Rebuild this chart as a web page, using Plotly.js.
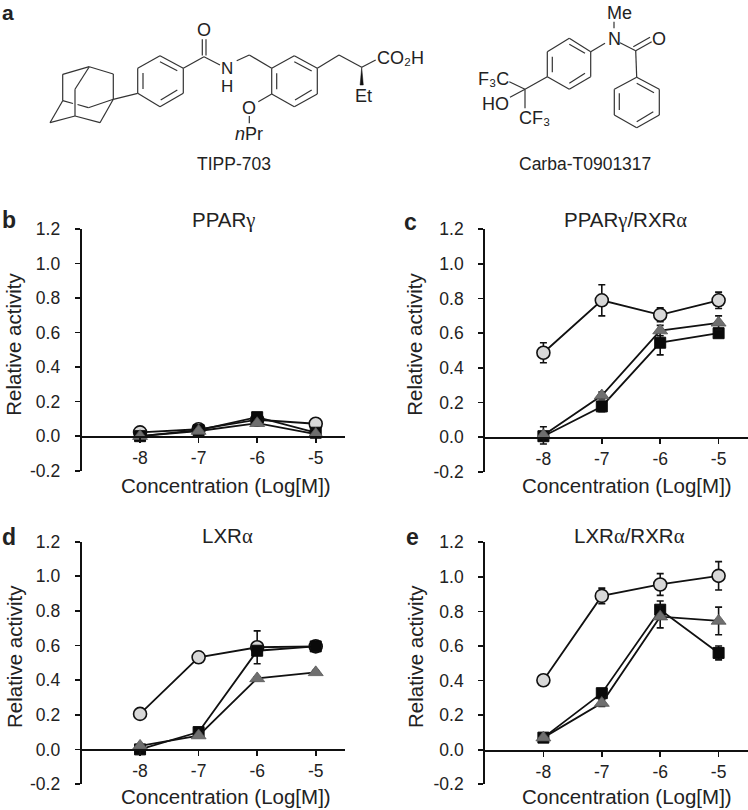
<!DOCTYPE html>
<html>
<head>
<meta charset="utf-8">
<script src="https://cdn.plot.ly/plotly-3.0.1.min.js"></script>
<style>
  html, body { margin: 0; padding: 0; background: #fff; }
</style>
</head>
<body>
<div id="chart" style="width:748px;height:810px;"></div>
<script>
// Values
const concentration = [-8, -7, -6, -5];
const concentrationLabels = ['-8', '-7', '-6', '-5'];
const activityTicks = [-0.2, 0, 0.2, 0.4, 0.6, 0.8, 1.0, 1.2];
const activityLabels = ['-0.2', '0.0', '0.2', '0.4', '0.6', '0.8', '1.0', '1.2'];

// b: PPARgamma
const bCircle = [0.022, 0.04, 0.095, 0.072];
const bCircleErr = [0.005, 0.005, 0.01, 0.005];
const bSquare = [0.0, 0.035, 0.11, 0.02];
const bSquareErr = [0.005, 0.005, 0.015, 0.01];
const bTriangle = [0.0, 0.03, 0.075, 0.012];
const bTriangleErr = [0.005, 0.005, 0.01, 0.005];

// c: PPARgamma/RXRalpha
const cCircle = [0.487, 0.79, 0.706, 0.79];
const cCircleErr = [0.058, 0.09, 0.04, 0.047];
const cSquare = [0.005, 0.177, 0.545, 0.6];
const cSquareErr = [0.01, 0.03, 0.07, 0.02];
const cTriangle = [0.01, 0.24, 0.615, 0.66];
const cTriangleErr = [0.05, 0.02, 0.03, 0.04];

// d: LXRalpha
const dCircle = [0.205, 0.532, 0.59, 0.595];
const dCircleErr = [0.02, 0.005, 0.095, 0.01];
const dSquare = [0.0, 0.10, 0.57, 0.595];
const dSquareErr = [0.01, 0.01, 0.02, 0.015];
const dTriangle = [0.02, 0.08, 0.41, 0.445];
const dTriangleErr = [0.005, 0.01, 0.01, 0.01];

// e: LXRalpha/RXRalpha
const eCircle = [0.402, 0.89, 0.956, 1.006];
const eCircleErr = [0.01, 0.045, 0.063, 0.082];
const eSquare = [0.07, 0.327, 0.81, 0.56];
const eSquareErr = [0.01, 0.02, 0.05, 0.04];
const eTriangle = [0.07, 0.27, 0.77, 0.745];
const eTriangleErr = [0.01, 0.02, 0.065, 0.08];

const W = 748, H = 810;
const sansFont = 'Liberation Sans, Arial, sans-serif';
const textColor = '#222222';

// panel boxes in page pixels: left, right, top, bottom
const panels = [
  { id: '',  box: [81.5, 345, 229, 470.7],     sets: [bCircle, bCircleErr, bSquare, bSquareErr, bTriangle, bTriangleErr] },
  { id: '2', box: [485, 747.8, 229.3, 471.7],  sets: [cCircle, cCircleErr, cSquare, cSquareErr, cTriangle, cTriangleErr] },
  { id: '3', box: [81.5, 345, 541.7, 784],     sets: [dCircle, dCircleErr, dSquare, dSquareErr, dTriangle, dTriangleErr] },
  { id: '4', box: [485, 747.8, 542.3, 784.3],  sets: [eCircle, eCircleErr, eSquare, eSquareErr, eTriangle, eTriangleErr] }
];

const seriesStyles = [
  { name: 'Circle', symbol: 'circle', size: 13, fill: '#d8d8d8', edge: '#111111', edgeW: 1.6 },
  { name: 'Square', symbol: 'square', size: 11, fill: '#0a0a0a', edge: '#0a0a0a', edgeW: 1 },
  { name: 'Triangle', symbol: 'triangle-up', size: 13, fill: '#6f6f6f', edge: '#555555', edgeW: 0.8 }
];

var traces = [];
var layout = {
  width: W, height: H,
  margin: { l: 0, r: 0, t: 0, b: 0, autoexpand: false },
  paper_bgcolor: '#ffffff',
  plot_bgcolor: 'rgba(0,0,0,0)',
  showlegend: false,
  font: { family: sansFont, color: textColor, size: 18 },
  shapes: [],
  annotations: []
};

panels.forEach(function (p) {
  const xName = 'x' + p.id, yName = 'y' + p.id;
  const yBottom = 1 - p.box[3] / H, yTop = 1 - p.box[2] / H;

  seriesStyles.forEach(function (s, i) {
    traces.push({
      x: concentration,
      y: p.sets[i * 2],
      xaxis: xName,
      yaxis: yName,
      type: 'scatter',
      mode: 'lines+markers',
      name: s.name,
      cliponaxis: false,
      line: { color: '#111111', width: 1.8 },
      marker: { symbol: s.symbol, size: s.size, color: s.fill, line: { color: s.edge, width: s.edgeW } },
      error_y: { type: 'data', array: p.sets[i * 2 + 1], visible: true, color: '#111111', thickness: 1.6, width: 3.5 }
    });
  });

  layout['xaxis' + p.id] = {
    domain: [p.box[0] / W, p.box[1] / W],
    range: [-9, -4.5],
    anchor: 'free',
    position: yBottom + (yTop - yBottom) * 0.2 / 1.4,
    tickmode: 'array',
    tickvals: concentration,
    ticktext: concentrationLabels,
    ticks: 'outside', ticklen: 5, tickwidth: 1.7, tickcolor: '#111111',
    ticklabelshift: -4.5,
    tickfont: { size: 17.5 },
    showline: true, linecolor: '#111111', linewidth: 1.8,
    showgrid: false, zeroline: false
  };
  layout['yaxis' + p.id] = {
    domain: [yBottom, yTop],
    range: [-0.2, 1.2],
    anchor: xName,
    tickmode: 'array',
    tickvals: activityTicks,
    ticktext: activityLabels,
    ticks: 'outside', ticklen: 5, tickwidth: 1.7, tickcolor: '#111111',
    ticklabelstandoff: 11,
    tickfont: { size: 17.5 },
    showline: true, linecolor: '#111111', linewidth: 1.8,
    showgrid: false, zeroline: false
  };
});

// text placed by page pixel
function label(x, y, text, size, opts, fontOpts) {
  layout.annotations.push(Object.assign({
    xref: 'paper', yref: 'paper',
    x: x / W, y: 1 - y / H,
    xanchor: 'center', yanchor: 'middle',
    text: text, showarrow: false,
    font: Object.assign({ size: size, family: sansFont, color: textColor }, fontOpts || {})
  }, opts || {}));
}

const titleSize = 20.5;
const greekStyle = 'style="font-size:' + titleSize + 'px;font-family:\'Liberation Serif\',serif"';
const gamma = '<span ' + greekStyle + '>γ</span>';
const alpha = '<span ' + greekStyle + '>α</span>';

// panel letters and titles
const boldFont = { weight: 'bold' };
label(8, 12.5, 'a', 21, null, boldFont);
label(9, 220, 'b', 23, null, boldFont);
label(410, 222, 'c', 23, null, boldFont);
label(9, 537, 'd', 23, null, boldFont);
label(412, 537, 'e', 23, null, boldFont);
label(224, 220, 'PPAR' + gamma, titleSize);
label(625.6, 220, 'PPAR' + gamma + '/RXR' + alpha, titleSize);
label(227, 535, 'LXR' + alpha, titleSize);
label(629, 535, 'LXR' + alpha + '/RXR' + alpha, titleSize);

// axis titles
const xTitle = 'Concentration (Log[M])';
const yTitle = 'Relative activity';
label(225.5, 485.7, xTitle, 20.5);
label(627, 485.7, xTitle, 20.5);
label(225.5, 796.7, xTitle, 20.5);
label(627, 796.7, xTitle, 20.5);
label(14, 344.7, yTitle, 20.5, { textangle: -90 });
label(415, 344.7, yTitle, 20.5, { textangle: -90 });
label(14, 657, yTitle, 20.5, { textangle: -90 });
label(415, 657, yTitle, 20.5, { textangle: -90 });

// structure labels
label(234, 164, 'TIPP-703', 17.5);
label(585, 164, 'Carba-T0901317', 17.5);
label(204, 30, 'O', 18);
label(226.7, 68.5, 'N', 17);
label(226.7, 86, 'H', 17);
label(400, 58, 'CO₂H', 18);
label(363, 95.7, 'Et', 18);
label(249.3, 107.7, 'O', 18);
label(240, 134.3, 'n', 18, null, { style: 'italic' });
label(253.5, 134.3, 'Pr', 18);
label(619.3, 13.3, 'Me', 18);
label(614, 39.3, 'N', 18);
label(659, 39.3, 'O', 18);
label(493.5, 79, 'F₃C', 18);
label(495.5, 104, 'HO', 18);
label(534.5, 118, 'CF₃', 18);

// bonds of the two structures, page pixels: x1, y1, x2, y2
const bonds = [
  // adamantane
  [89.3,66.7,62.7,74.3], [89.3,66.7,113.3,74], [89.3,66.7,75,89.3], [62.7,74.3,62.7,100.7],
  [113.3,74,113.3,99.3], [75,89.3,75,116], [62.7,100.7,73,103.5], [77.5,104.5,88.3,107.7],
  [88.3,107.7,113.3,99.3], [62.7,100.7,50,122.7], [50,122.7,75,116], [75,116,100,122.7],
  [100,122.7,113.3,99.3], [113.3,99.3,137.7,93.3],
  // first ring
  [137.7,68.3,160,55.7], [160,55.7,183.3,68.3], [183.3,68.3,183.3,93.3], [183.3,93.3,160,106.7],
  [160,106.7,137.7,93.3], [137.7,93.3,137.7,68.3], [143,73,143,89], [160,61.7,177.3,70.7], [177.3,90,160.7,100],
  // amide
  [183.3,68.3,204,56.7], [202.3,55.5,202.3,39.3], [206,55.5,206,39.3], [204,56.7,220,65],
  [236.7,60.7,249.3,55], [249.3,55,271.7,68.3],
  // second ring
  [271.7,68.3,294.3,55.7], [294.3,55.7,317.3,68.3], [317.3,68.3,317.3,94], [317.3,94,294.3,106.7],
  [294.3,106.7,271.7,94], [271.7,94,271.7,68.3], [276.7,73.3,276.7,89.3], [294.3,61.7,311.7,71], [311.7,90,295,100],
  // side chains
  [317.3,68.3,339,55], [339,55,361.7,67.3], [361.7,67.3,375.7,60], [271.7,94,258.3,101.7], [249.3,116,249.3,123.3],
  // carba ring
  [590.7,51.7,569.3,38.3], [569.3,38.3,547.3,51.7], [547.3,51.7,547.3,76.7], [547.3,76.7,569.3,89.3],
  [569.3,89.3,590.7,76.7], [590.7,76.7,590.7,51.7], [552.3,56.7,552.3,72.3], [585,53.3,569.3,44.3], [585,73.3,569.3,83.3],
  // carba substituents
  [614,21.7,614,28.3], [605,43.3,590.7,51.7], [547.3,76.7,525,89.3], [525,89.3,509.3,81.7],
  [525,89.3,510,97.3], [525,89.3,525,108.3], [620,42.7,635.7,50.7], [635.7,50.7,651.7,41.7],
  [633.3,46.7,650,37.3], [635.7,50.7,636.7,77.3],
  // benzoyl ring
  [636.7,77.3,659.3,89.3], [659.3,89.3,659.3,115], [659.3,115,636.7,127.7], [636.7,127.7,614.3,115],
  [614.3,115,614.3,89.3], [614.3,89.3,636.7,77.3], [619.3,93.3,619.3,110], [636.7,83.3,654,92.7], [653.3,111.7,636.7,121.7]
];

bonds.forEach(function (b) {
  layout.shapes.push({
    type: 'line', xref: 'paper', yref: 'paper',
    x0: b[0] / W, y0: 1 - b[1] / H, x1: b[2] / W, y1: 1 - b[3] / H,
    line: { color: '#333333', width: 1.2 }
  });
});

// wedge bond to the ethyl group
layout.shapes.push({
  type: 'path', xref: 'paper', yref: 'paper',
  path: 'M ' + (361.7 / W) + ' ' + (1 - 67.3 / H) +
        ' L ' + (363.3 / W) + ' ' + (1 - 85 / H) +
        ' L ' + (360.1 / W) + ' ' + (1 - 85 / H) + ' Z',
  fillcolor: '#111111', line: { color: '#111111', width: 0.5 }
});

Plotly.newPlot('chart', traces, layout, { displayModeBar: false, staticPlot: true });
</script>
</body>
</html>
